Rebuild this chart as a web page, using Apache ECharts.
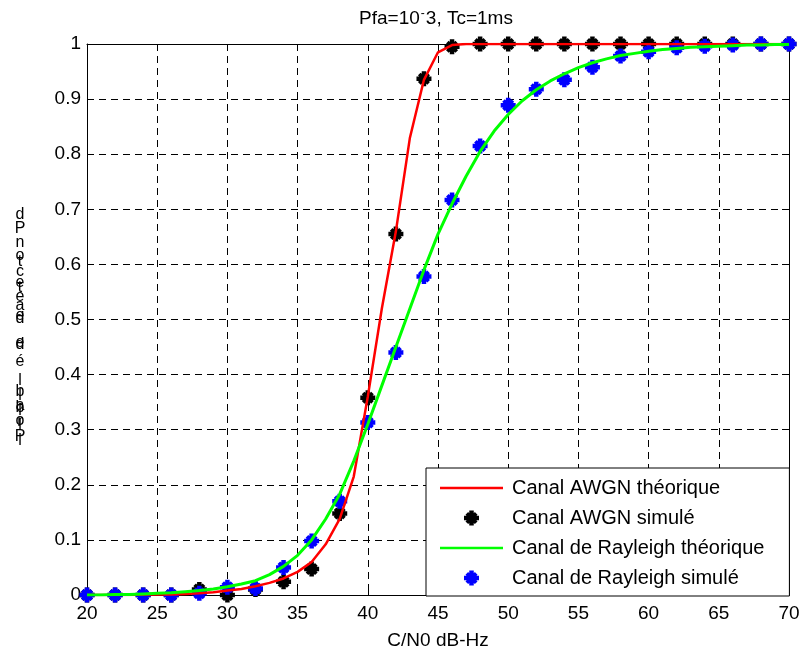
<!DOCTYPE html>
<html>
<head>
<meta charset="utf-8">
<script src="https://cdn.jsdelivr.net/npm/echarts@6/dist/echarts.min.js"></script>
<style>
  html, body { margin: 0; padding: 0; background: #fff; }
  #chart { width: 803px; height: 655px; }
</style>
</head>
<body>
<div id="chart"></div>
<script>
// C/N0 grid (dB-Hz) for the theoretical curves
const curveX = [20,21,22,23,24,25,26,27,28,29,30,31,32,33,34,35,36,37,38,39,40,41,42,43,44,45,
  46,47,48,49,50,51,52,53,54,55,56,57,58,59,60,61,62,63,64,65,66,67,68,69,70];

// Theoretical detection probability, AWGN channel
const awgnTheory = [0,0,0,0,0.001,0.001,0.001,0.002,0.003,0.005,0.008,0.011,0.016,0.022,0.03,0.042,
  0.06,0.092,0.138,0.215,0.36,0.52,0.66,0.83,0.935,0.985,0.998,1,1,1,1,1,1,1,1,1,1,1,1,1,1,1,1,1,1,1,1,1,1,1,1];

// Theoretical detection probability, Rayleigh channel
const rayleighTheory = [0,0,0.001,0.001,0.002,0.003,0.004,0.006,0.008,0.011,0.015,0.02,0.026,0.037,0.052,
  0.072,0.1,0.138,0.183,0.243,0.31,0.38,0.45,0.52,0.59,0.655,0.71,0.76,0.805,0.842,0.872,0.897,0.917,
  0.933,0.946,0.957,0.966,0.973,0.979,0.983,0.987,0.99,0.992,0.994,0.995,0.996,0.997,0.998,0.998,0.999,0.999];

// Simulation points (every 2 dB-Hz)
const simX = [20,22,24,26,28,30,32,34,36,38,40,42,44,46,48,50,52,54,56,58,60,62,64,66,68,70];
const awgnSim = [0,0,0,0,0.01,0,0.01,0.024,0.047,0.148,0.358,0.655,0.937,0.995,1,1,1,1,1,1,1,1,1,1,1,1];
const rayleighSim = [0,0,0,0,0.003,0.014,0.012,0.05,0.098,0.17,0.313,0.44,0.578,0.717,0.815,0.889,0.918,
  0.935,0.958,0.978,0.986,0.993,0.996,0.998,1,1];

const seriesNames = ['Canal AWGN théorique', 'Canal AWGN simulé', 'Canal de Rayleigh théorique', 'Canal de Rayleigh simulé'];
const xAxisTitle = 'C/N0 dB-Hz';

// Chunky asterisk marker: thick plus merged with a thick diagonal cross
const starPath = 'path://M7,0H13V7H20V13H13V20H7V13H0V7H7Z ' +
  'M2,5.5L5.5,2L10,6.5L14.5,2L18,5.5L13.5,10L18,14.5L14.5,18L10,13.5L5.5,18L2,14.5L6.5,10Z';
// Legend sample for the solid curves
const lineIcon = 'path://M0,0H63V2.6H0Z';

const FONT = '"Liberation Sans", Arial, Helvetica, sans-serif';

const zip = (xs, ys) => xs.map((x, i) => [x, ys[i]]);

// Stacked, overlapping glyphs of the vertical axis caption
const yCaption = [
  ['d',215],['P',229],['n',243],['o',256],['t',262],['c',272],['e',283],['t',288],['e',297],['a',306],
  ['e',316],['d',319],['e',343],['d',345],['é',362],['l',381],['l',396],['l',411],['l',426],['l',441],
  ['b',392],['a',406],['b',408],['o',421],['r',422],['P',437]
];

const chart = echarts.init(document.getElementById('chart'), null, { renderer: 'canvas' });

const tickStyle = { inside: true, length: 7, lineStyle: { color: '#000', width: 1 } };
const axisLineStyle = { show: true, onZero: false, lineStyle: { color: '#000', width: 1 } };
const gridDash = { show: true, lineStyle: { color: '#000', width: 1, type: [7, 5] } };

chart.setOption({
  animation: false,
  backgroundColor: '#fff',
  grid: { left: 87, right: 14, top: 44, bottom: 59 },
  xAxis: [
    {
      type: 'value', min: 20, max: 70, interval: 5, position: 'bottom',
      axisLine: axisLineStyle, axisTick: tickStyle, splitLine: gridDash,
      axisLabel: { color: '#000', fontSize: 19, fontFamily: FONT, margin: 9 },
      name: xAxisTitle, nameLocation: 'middle', nameGap: 36,
      nameTextStyle: { color: '#000', fontSize: 19, fontFamily: FONT }
    },
    {
      type: 'value', min: 20, max: 70, interval: 5, position: 'top',
      axisLine: axisLineStyle, axisTick: tickStyle, splitLine: { show: false },
      axisLabel: { show: false }
    }
  ],
  yAxis: [
    {
      type: 'value', min: 0, max: 1, interval: 0.1, position: 'left',
      axisLine: axisLineStyle, axisTick: tickStyle, splitLine: gridDash,
      axisLabel: {
        color: '#000', fontSize: 19, fontFamily: FONT, margin: 6,
        formatter: v => String(Math.round(v * 10) / 10)
      }
    },
    {
      type: 'value', min: 0, max: 1, interval: 0.1, position: 'right',
      axisLine: axisLineStyle, axisTick: tickStyle, splitLine: { show: false },
      axisLabel: { show: false }
    }
  ],
  legend: {
    left: 426, top: 468, orient: 'vertical',
    data: [
      { name: seriesNames[0], icon: lineIcon },
      { name: seriesNames[1] },
      { name: seriesNames[2], icon: lineIcon },
      { name: seriesNames[3] }
    ],
    itemWidth: 63, itemHeight: 15, itemGap: 10,
    padding: [10, 25, 8, 14],
    backgroundColor: '#fff', borderColor: '#000', borderWidth: 1, borderRadius: 0,
    textStyle: { color: '#000', fontSize: 20, fontFamily: FONT, lineHeight: 20, padding: [0, 0, 0, 4] },
    selectedMode: false
  },
  graphic: [
    {
      type: 'text', x: 436, y: 19, silent: true,
      style: {
        text: 'Pfa=10{s|-}3, Tc=1ms',
        fill: '#000', font: '19px ' + FONT, align: 'center', verticalAlign: 'middle',
        rich: { s: { fontSize: 12, fontFamily: FONT, fill: '#000', padding: [0, 1, 10, 1] } }
      }
    }
  ].concat(yCaption.map(([ch, y]) => ({
    type: 'text', x: 20, y: y, silent: true,
    style: { text: ch, fill: '#000', font: '16px ' + FONT, align: 'center', verticalAlign: 'middle' }
  }))),
  series: [
    {
      name: seriesNames[0], type: 'line', data: zip(curveX, awgnTheory),
      symbol: 'none', lineStyle: { color: '#ff0000', width: 2.5 }, itemStyle: { color: '#ff0000' }
    },
    {
      name: seriesNames[1], type: 'scatter', data: zip(simX, awgnSim),
      symbol: starPath, symbolSize: 15, itemStyle: { color: '#000', opacity: 1 }
    },
    {
      name: seriesNames[2], type: 'line', data: zip(curveX, rayleighTheory),
      symbol: 'none', lineStyle: { color: '#00ff00', width: 3 }, itemStyle: { color: '#00ff00' }
    },
    {
      name: seriesNames[3], type: 'scatter', data: zip(simX, rayleighSim),
      symbol: starPath, symbolSize: 15, itemStyle: { color: '#0000ff', opacity: 1 }
    }
  ]
});
</script>
</body>
</html>
